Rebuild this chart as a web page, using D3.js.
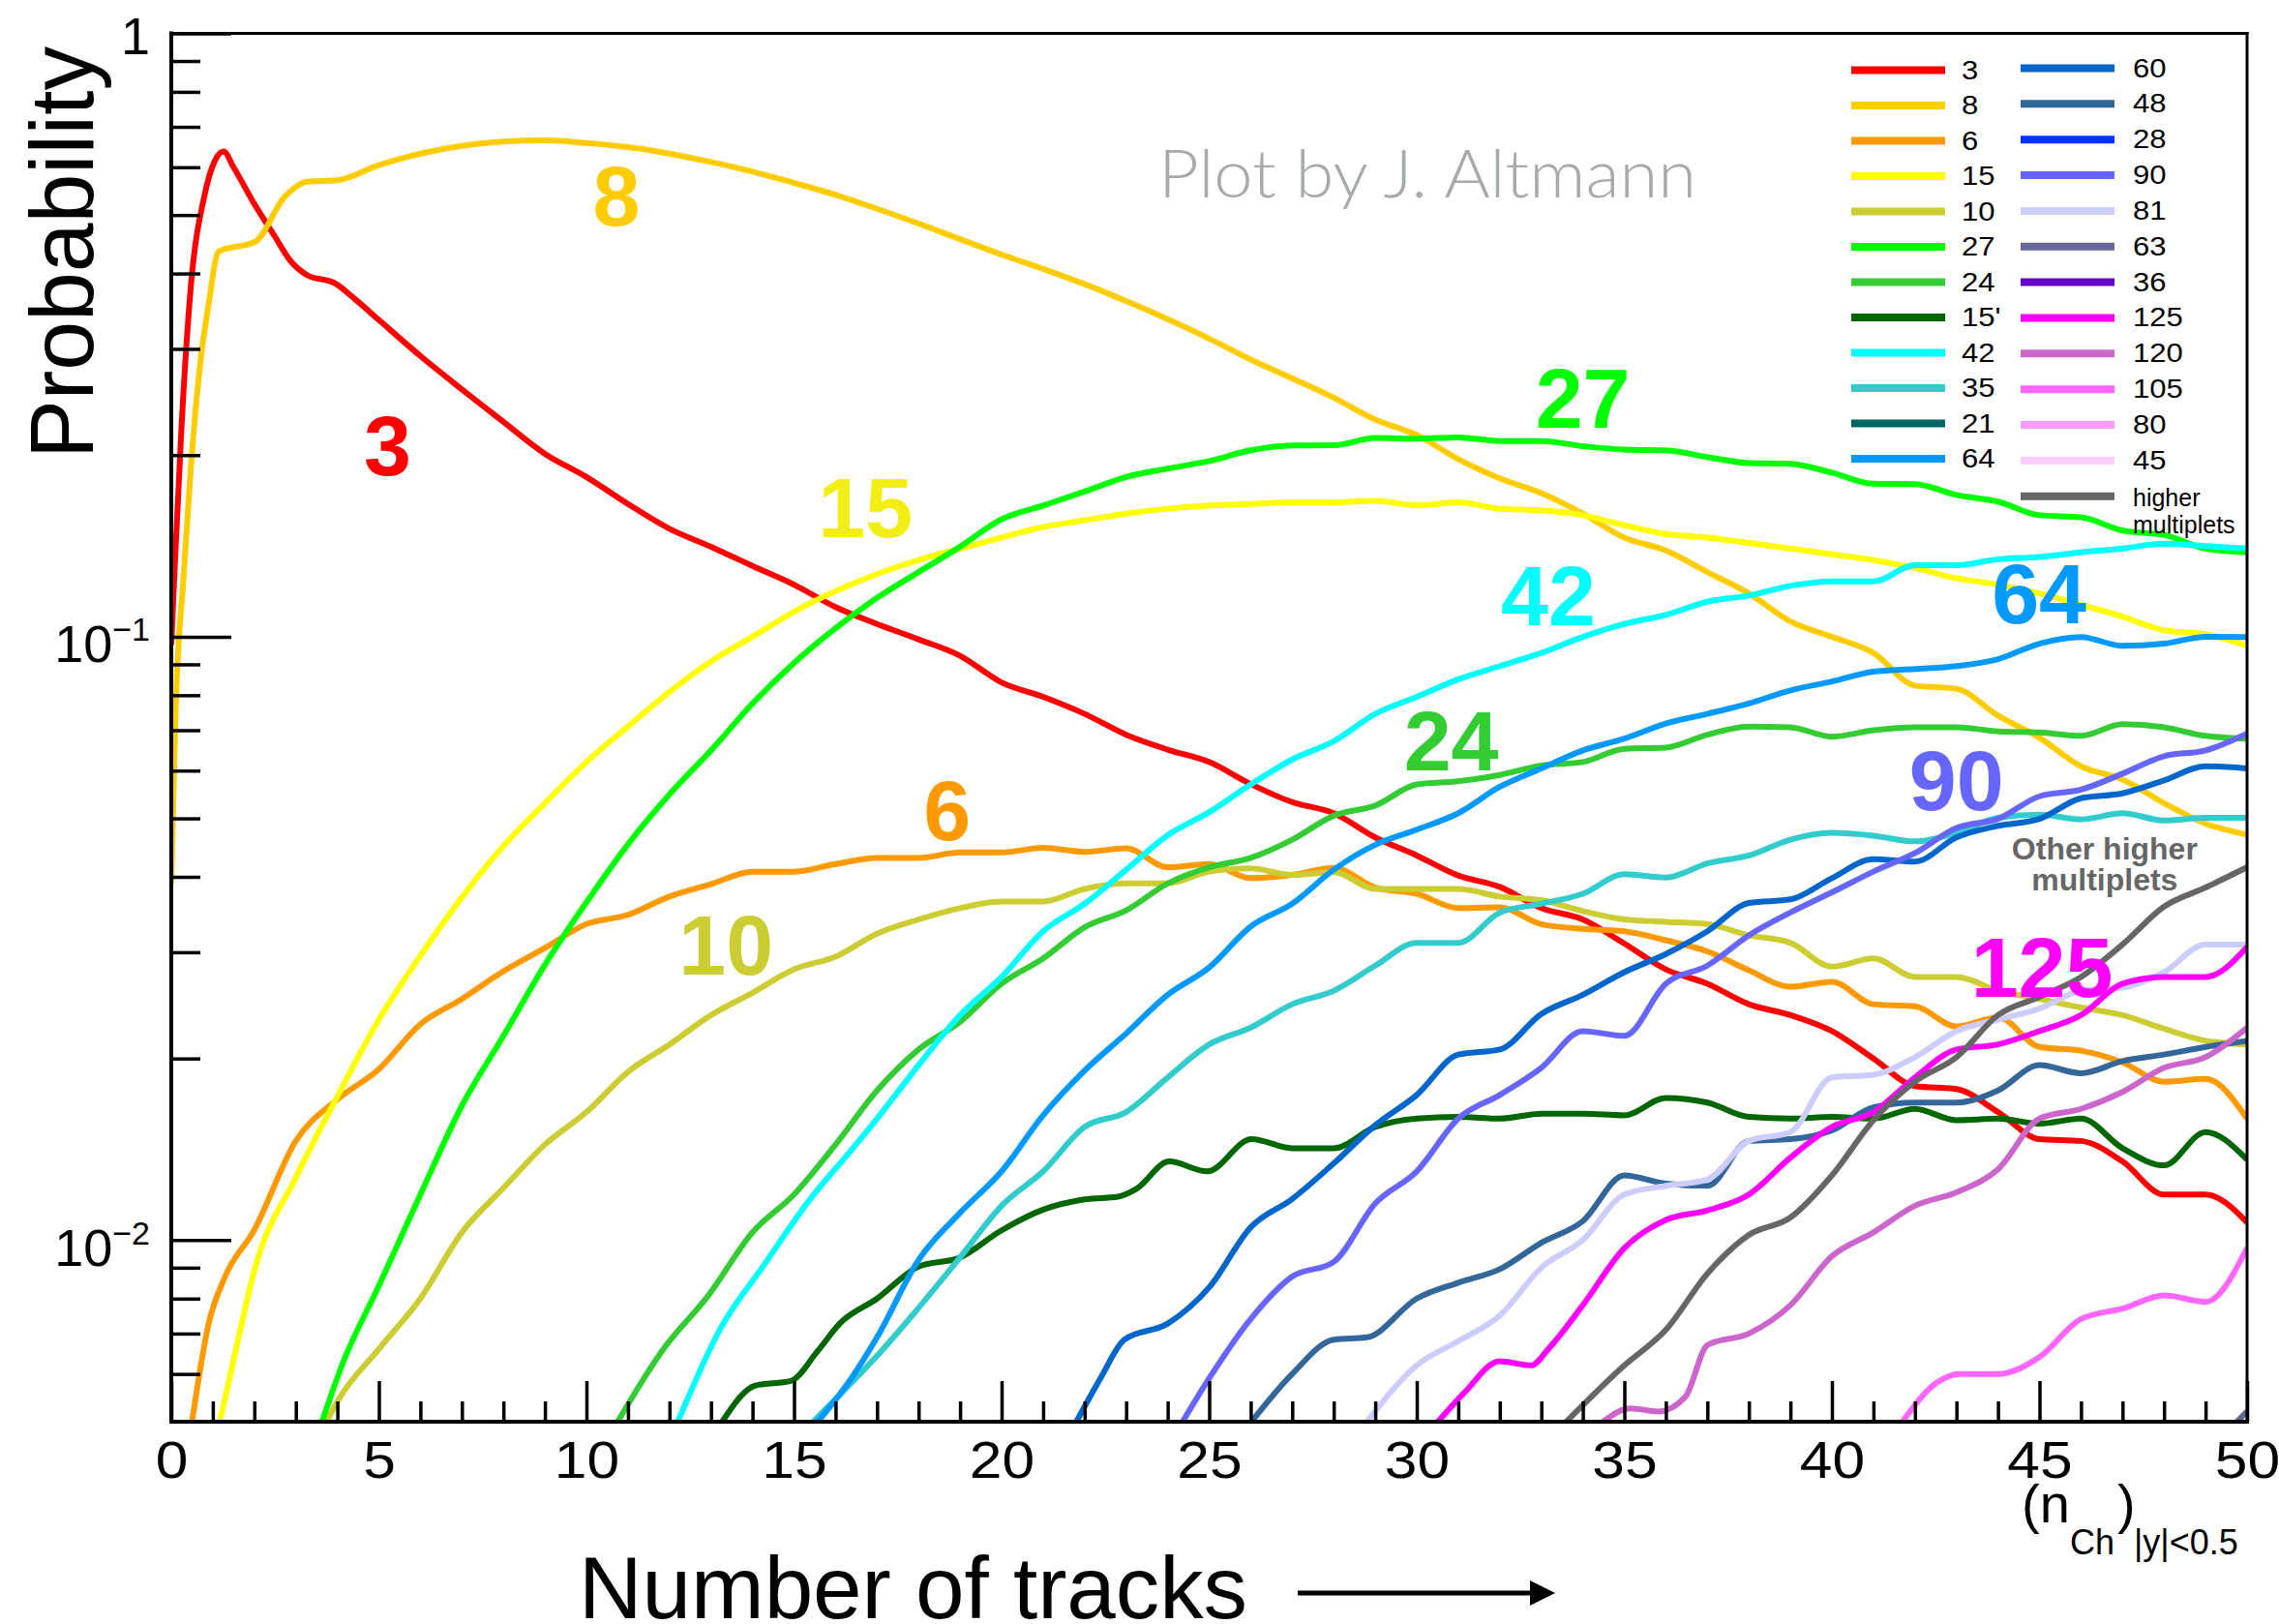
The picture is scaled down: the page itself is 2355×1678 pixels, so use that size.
<!DOCTYPE html>
<html>
<head>
<meta charset="utf-8">
<script src="https://cdn.jsdelivr.net/npm/d3@7"></script>
<style>
  html, body { margin: 0; padding: 0; background: #ffffff; }
  svg { display: block; }
</style>
</head>
<body>
<svg id="chart" width="2355" height="1678"></svg>
<script>
// ---------------------------------------------------------------------------
// Multiplet probabilities versus charged-track multiplicity (|y| < 0.5)
// Each series: [number of tracks, probability]
// ---------------------------------------------------------------------------
const s3 = [[0,0.097],[0.1,0.138],[0.25,0.225],[0.47,0.38],[0.79,0.535],[1.05,0.615],[1.26,0.637],[1.5,0.6],[1.97,0.526],[2.5,0.46],[2.88,0.419],[3.26,0.398],[3.95,0.385],[4.44,0.362],[5,0.335],[6,0.292],[7,0.257],[8,0.227],[9,0.201],[10,0.184],[11,0.166],[12,0.151],[13,0.141],[14,0.131],[15,0.122],[16,0.112],[17,0.105],[18,0.099],[19,0.093],[20,0.084],[21,0.0795],[22,0.0745],[23,0.0688],[24,0.065],[25,0.062],[26,0.057],[27,0.0532],[28,0.051],[29,0.0465],[30,0.0434],[31,0.0402],[32,0.0385],[33,0.0355],[34,0.034],[35,0.031],[36,0.0281],[37,0.0266],[38,0.0246],[39,0.0236],[40,0.0222],[41,0.02],[42,0.018],[43,0.0178],[44,0.0163],[45,0.0147],[46,0.0146],[47,0.0135],[48,0.0119],[49,0.0119],[50,0.0107]];
const s8 = [[0,0.039],[0.1,0.074],[0.3,0.127],[0.47,0.19],[0.69,0.281],[0.9,0.356],[1.14,0.435],[2.03,0.452],[2.72,0.535],[3.04,0.559],[3.26,0.568],[4,0.571],[5,0.605],[6,0.632],[7,0.651],[8,0.662],[9,0.665],[10,0.658],[11,0.648],[12,0.632],[13,0.612],[14,0.59],[15,0.565],[16,0.54],[17,0.512],[18,0.484],[19,0.456],[20,0.43],[21,0.407],[22,0.384],[23,0.36],[24,0.336],[25,0.312],[26,0.288],[27,0.268],[28,0.249],[29,0.229],[30,0.216],[31,0.197],[32,0.183],[33,0.173],[34,0.16],[35,0.146],[36,0.139],[37,0.128],[38,0.118],[39,0.106],[40,0.1],[41,0.094],[42,0.083],[43,0.082],[44,0.074],[45,0.068],[46,0.061],[47,0.058],[48,0.053],[49,0.049],[50,0.047]];
const s6 = [[0.5,0.005],[0.9,0.00727],[1.28,0.00865],[2,0.0104],[3,0.0146],[4,0.0171],[5,0.0192],[6,0.0228],[7,0.0251],[8,0.0279],[9,0.0305],[10,0.0334],[11,0.0346],[12,0.0371],[13,0.0389],[14,0.0408],[15,0.0408],[16,0.042],[17,0.043],[18,0.043],[19,0.0439],[20,0.0439],[21,0.0447],[22,0.044],[23,0.0446],[24,0.0415],[25,0.042],[26,0.0398],[27,0.0403],[28,0.0414],[29,0.0384],[30,0.0375],[31,0.0355],[32,0.0356],[33,0.0334],[34,0.0328],[35,0.0325],[36,0.0314],[37,0.0301],[38,0.028],[39,0.0263],[40,0.0268],[41,0.0246],[42,0.0244],[43,0.0226],[44,0.0234],[45,0.0209],[46,0.0206],[47,0.0197],[48,0.0183],[49,0.0185],[50,0.0159]];
const s15 = [[1.17,0.005],[1.6,0.0068],[2,0.0089],[3,0.0127],[4,0.0173],[5,0.0232],[6,0.0296],[7,0.037],[8,0.045],[9,0.053],[10,0.062],[11,0.071],[12,0.081],[13,0.091],[14,0.1],[15,0.11],[16,0.119],[17,0.127],[18,0.134],[19,0.14],[20,0.146],[21,0.152],[22,0.156],[23,0.16],[24,0.163],[25,0.165],[26,0.166],[27,0.167],[28,0.167],[29,0.168],[30,0.165],[31,0.167],[32,0.163],[33,0.162],[34,0.159],[35,0.153],[36,0.148],[37,0.146],[38,0.143],[39,0.14],[40,0.137],[41,0.134],[42,0.13],[43,0.125],[44,0.122],[45,0.118],[46,0.113],[47,0.108],[48,0.1025],[49,0.101],[50,0.0966]];
const s10 = [[3.74,0.005],[4,0.0054],[5,0.0066],[6,0.008],[7,0.0103],[8,0.0122],[9,0.0144],[10,0.0163],[11,0.019],[12,0.0211],[13,0.0236],[14,0.0257],[15,0.0281],[16,0.0295],[17,0.0322],[18,0.034],[19,0.0355],[20,0.0364],[21,0.0364],[22,0.0382],[23,0.039],[24,0.039],[25,0.0408],[26,0.0413],[27,0.0403],[28,0.0407],[29,0.0382],[30,0.0382],[31,0.0382],[32,0.0371],[33,0.0366],[34,0.0351],[35,0.034],[36,0.0337],[37,0.0334],[38,0.032],[39,0.0311],[40,0.0284],[41,0.0293],[42,0.0273],[43,0.0273],[44,0.0259],[45,0.0251],[46,0.0243],[47,0.0236],[48,0.0224],[49,0.0214],[50,0.0211]];
const s27 = [[3.63,0.005],[4.11,0.0062],[5,0.0084],[6,0.0119],[7,0.0167],[8,0.0218],[9,0.0286],[10,0.0363],[11,0.0453],[12,0.0548],[13,0.0648],[14,0.0775],[15,0.0905],[16,0.1033],[17,0.116],[18,0.128],[19,0.141],[20,0.1566],[21,0.165],[22,0.174],[23,0.184],[24,0.19],[25,0.1955],[26,0.2037],[27,0.2075],[28,0.2077],[29,0.2135],[30,0.213],[31,0.214],[32,0.211],[33,0.211],[34,0.207],[35,0.2043],[36,0.2037],[37,0.1985],[38,0.194],[39,0.1935],[40,0.187],[41,0.1793],[42,0.179],[43,0.1718],[44,0.1675],[45,0.159],[46,0.1578],[47,0.15],[48,0.1475],[49,0.14],[50,0.138]];
const s24 = [[10.75,0.005],[11.82,0.00655],[12.94,0.0081],[14,0.0103],[15,0.0119],[16,0.0144],[17,0.0177],[18,0.0207],[19,0.023],[20,0.0266],[21,0.0293],[22,0.033],[23,0.0352],[24,0.039],[25,0.0415],[26,0.043],[27,0.0461],[28,0.0505],[29,0.0525],[30,0.0569],[31,0.0576],[32,0.059],[33,0.0612],[34,0.062],[35,0.0652],[36,0.0655],[37,0.0688],[38,0.071],[39,0.0708],[40,0.0683],[41,0.07],[42,0.0708],[43,0.0708],[44,0.0697],[45,0.0694],[46,0.0685],[47,0.0716],[48,0.0708],[49,0.0685],[50,0.0678]];
const s15p = [[13.27,0.005],[14.07,0.00574],[14.92,0.00584],[15.57,0.00655],[16.1,0.00727],[17,0.008],[18,0.00904],[19,0.00936],[20,0.01038],[21,0.01123],[22,0.01168],[22.8,0.0118],[23.24,0.01215],[24.04,0.0135],[24.95,0.013],[26.02,0.0147],[27,0.0142],[28,0.0142],[29,0.0154],[30,0.0159],[31,0.016],[32,0.0159],[33,0.0162],[34,0.0162],[35,0.0161],[36,0.0172],[37,0.0169],[38,0.016],[39,0.0159],[40,0.016],[41,0.0159],[42,0.0165],[43,0.0158],[44,0.0159],[45,0.0156],[46,0.0159],[47,0.0142],[48,0.0133],[49,0.0151],[50,0.0136]];
const s42 = [[12.2,0.005],[13.21,0.0071],[14.28,0.0091],[15.35,0.0116],[16.38,0.0141],[17,0.0159],[18,0.0195],[19,0.0236],[20,0.0273],[21,0.0325],[22,0.0361],[23,0.0411],[24,0.0469],[25,0.0512],[26,0.0569],[27,0.0626],[28,0.0671],[29,0.0745],[30,0.0795],[31,0.085],[32,0.0894],[33,0.094],[34,0.0999],[35,0.105],[36,0.1087],[37,0.1143],[38,0.117],[39,0.1214],[40,0.1235],[41,0.1235],[42,0.1314],[43,0.1314],[44,0.1344],[45,0.1356],[46,0.138],[47,0.14],[48,0.1426],[49,0.1413],[50,0.14]];
const s35 = [[15.46,0.005],[16.38,0.0058],[17,0.00643],[18,0.00772],[19,0.00936],[20,0.0114],[21,0.013],[22,0.0154],[23,0.0163],[24,0.0186],[25,0.0211],[26,0.0225],[27,0.0246],[28,0.0259],[29,0.0285],[30,0.0311],[31,0.0311],[32,0.0349],[33,0.0361],[34,0.0375],[35,0.0404],[36,0.0399],[37,0.0421],[38,0.0434],[39,0.0461],[40,0.0473],[41,0.0468],[42,0.0458],[43,0.0473],[44,0.0501],[45,0.0507],[46,0.0498],[47,0.051],[48,0.0496],[49,0.0501],[50,0.0501]];
const s21 = [];
const s64 = [[15.57,0.005],[16.38,0.0059],[17,0.0069],[18,0.00927],[19,0.0111],[20,0.013],[21,0.0161],[22,0.0191],[23,0.022],[24,0.0255],[25,0.0283],[26,0.0331],[27,0.0361],[28,0.0411],[29,0.0452],[30,0.0479],[31,0.051],[32,0.0564],[33,0.0605],[34,0.0648],[35,0.0678],[36,0.0718],[37,0.0745],[38,0.0775],[39,0.0815],[40,0.0843],[41,0.0875],[42,0.0884],[43,0.0894],[44,0.0918],[45,0.0974],[46,0.0999],[47,0.0966],[48,0.0974],[49,0.1],[50,0.0999]];
const s60 = [[21.8,0.005],[22.38,0.0059],[22.96,0.00684],[24,0.00727],[25,0.00835],[26,0.0105],[27,0.0117],[28,0.0134],[29,0.0155],[30,0.0174],[31,0.0203],[32,0.0207],[33,0.0237],[34,0.0255],[35,0.0278],[36,0.0298],[37,0.0325],[38,0.0362],[39,0.0367],[40,0.0398],[41,0.0428],[42,0.0424],[43,0.0465],[44,0.0486],[45,0.0499],[46,0.054],[47,0.055],[48,0.0578],[49,0.061],[50,0.0605]];
const s48 = [[26.02,0.005],[27,0.006],[28,0.00684],[28.8,0.0069],[30,0.008],[31,0.0085],[32,0.00895],[33,0.0099],[34,0.01075],[35,0.0128],[36,0.0124],[37,0.0123],[38,0.0146],[39,0.0147],[40,0.0152],[41,0.0166],[42,0.0169],[43,0.0169],[44,0.0177],[45,0.0195],[46,0.0189],[47,0.0198],[48,0.0203],[49,0.0209],[50,0.0214]];
const s28 = [];
const s90 = [[24.36,0.005],[25,0.0059],[26,0.0074],[27,0.0087],[28,0.0092],[29,0.0115],[30,0.013],[31,0.0159],[32,0.0174],[33,0.0193],[34,0.0222],[35,0.0218],[36,0.0266],[37,0.0285],[38,0.032],[39,0.0349],[40,0.0377],[41,0.0408],[42,0.0438],[43,0.0482],[44,0.0499],[45,0.0544],[46,0.0558],[47,0.0593],[48,0.0634],[49,0.0648],[50,0.0691]];
const s81 = [[28.8,0.005],[30,0.0062],[31,0.0068],[32,0.0075],[33,0.009],[34,0.01],[35,0.0119],[36,0.0123],[37,0.0126],[38,0.0146],[39,0.0151],[40,0.0186],[41,0.0188],[42,0.0201],[43,0.0222],[44,0.0232],[45,0.0242],[46,0.0259],[47,0.0262],[48,0.0278],[49,0.0309],[50,0.0309]];
const s63 = [[49.5,0.0048],[50,0.0052]];
const s36 = [];
const s125 = [[30.51,0.005],[31.16,0.0056],[32,0.0063],[32.76,0.0062],[33.17,0.0066],[34,0.0078],[35,0.0097],[36,0.0108],[37,0.0112],[38,0.0119],[39,0.0137],[40,0.0154],[41,0.0163],[42,0.0186],[43,0.0207],[44,0.0211],[45,0.0222],[46,0.0236],[47,0.0266],[48,0.0273],[49,0.0273],[50,0.0306]];
const s120 = [[34.48,0.005],[35.15,0.00526],[35.81,0.0052],[36.47,0.0055],[37,0.0067],[38,0.007],[39,0.0078],[40,0.0094],[41,0.0103],[42,0.0114],[43,0.012],[44,0.0131],[45,0.0159],[46,0.0165],[47,0.0176],[48,0.0193],[49,0.0201],[50,0.0225]];
const s105 = [[41.7,0.005],[42.52,0.0058],[43.07,0.006],[44,0.006],[45,0.0064],[46,0.0074],[47,0.0077],[48,0.0081],[49,0.0079],[50,0.0097]];
const s80 = [];
const s45 = [];
const sHigher = [[33.6,0.005],[35,0.0062],[36,0.0071],[37,0.0088],[38,0.0102],[39,0.0109],[40,0.0128],[41,0.0158],[42,0.0183],[43,0.0201],[44,0.0236],[45,0.0253],[46,0.0273],[47,0.0309],[48,0.0357],[49,0.0384],[50,0.0415]];

// Legend order, names and colours
const seriesNames  = ["3","8","6","15","10","27","24","15'","42","35","21","64",
                      "60","48","28","90","81","63","36","125","120","105","80","45","higher multiplets"];
const seriesColors = ["#ff0000","#ffcc00","#ff9900","#ffff00","#cccc33","#00ff00","#33cc33","#006600",
                      "#00ffff","#33cccc","#006666","#0099ff",
                      "#0066cc","#336699","#0033ff","#6666ff","#ccccff","#666699","#6600cc",
                      "#ff00ff","#cc66cc","#ff66ff","#ff99ff","#ffccff","#666666"];
const seriesValues = [s3,s8,s6,s15,s10,s27,s24,s15p,s42,s35,s21,s64,
                      s60,s48,s28,s90,s81,s63,s36,s125,s120,s105,s80,s45,sHigher];

// Axis ticks
const xMajorTicks = [0,5,10,15,20,25,30,35,40,45,50];
const xMinorTicks = d3.range(0, 51).filter(d => d % 5 !== 0);
const yMajorTicks = [0.01, 0.1, 1];
const yMajorLabels = [["10","\u22122"],["10","\u22121"],["1",""]];
const yMinorTicks = [0.006,0.007,0.008,0.009, 0.02,0.03,0.04,0.05,0.06,0.07,0.08,0.09,
                     0.2,0.3,0.4,0.5,0.6,0.7,0.8,0.9];

// In-plot curve names: [text, tracks, probability at baseline, colour]
const curveTags = [
  ["8",   10.72, 0.4796, "#ffcc00"],
  ["3",    5.21, 0.1855, "#ff0000"],
  ["15",  16.72, 0.1462, "#f2ee14"],
  ["27",  34.0,  0.222,  "#00ff00"],
  ["42",  33.17, 0.1045, "#00ffff"],
  ["64",  44.99, 0.1053, "#0099ff"],
  ["24",  30.83, 0.06005,"#33cc33"],
  ["6",   18.69, 0.046,  "#ff9900"],
  ["10",  13.36, 0.02754,"#cccc33"],
  ["90",  43.0,  0.0516, "#6666ff"],
  ["125", 45.06, 0.0253, "#ff00ff"]
];

// ---------------------------------------------------------------------------
const FONT = "'Liberation Sans', Arial, Helvetica, sans-serif";
const svg = d3.select("#chart");
const plot = { left: 177, right: 2322, top: 34.5, bottom: 1469 };

const x = d3.scaleLinear().domain([0, 50]).range([plot.left, plot.right]);
const y = d3.scaleLog().domain([0.005, 1]).range([plot.bottom, plot.top]);

// widen glyphs slightly so the regular lettering keeps its broad proportions
function widen(sel, k) {
  sel.each(function () {
    const L = this.getComputedTextLength();
    d3.select(this).attr("textLength", L * k).attr("lengthAdjust", "spacingAndGlyphs");
  });
}

svg.append("rect").attr("width", 2355).attr("height", 1678).attr("fill", "#fff");

// clip region for the curves
svg.append("defs").append("clipPath").attr("id", "plotClip")
  .append("rect")
  .attr("x", plot.left).attr("y", plot.top)
  .attr("width", plot.right - plot.left).attr("height", plot.bottom - plot.top);

// watermark
svg.append("text")
  .attr("x", 1197).attr("y", 204)
  .attr("font-family", "Lato, 'Open Sans', sans-serif")
  .attr("font-weight", 300)
  .attr("font-size", 69)
  .attr("fill", "#a7aaaa")
  .attr("textLength", 556).attr("lengthAdjust", "spacingAndGlyphs")
  .text("Plot by J. Altmann");

// curves
const line = d3.line()
  .x(d => x(d[0]))
  .y(d => y(d[1]))
  .curve(d3.curveMonotoneX);

const curves = svg.append("g").attr("clip-path", "url(#plotClip)");
seriesValues.forEach((vals, i) => {
  if (!vals.length) return;
  curves.append("path")
    .attr("d", line(vals))
    .attr("fill", "none")
    .attr("stroke", seriesColors[i])
    .attr("stroke-width", 6)
    .attr("stroke-linejoin", "round");
});

// curve names inside the plot
svg.append("g").selectAll("text").data(curveTags).join("text")
  .attr("x", d => x(d[1])).attr("y", d => y(d[2]))
  .attr("text-anchor", "middle")
  .attr("font-family", FONT).attr("font-weight", "bold")
  .attr("font-size", 88)
  .attr("fill", d => d[3])
  .text(d => d[0]);

const other = svg.append("text")
  .attr("text-anchor", "middle")
  .attr("font-family", FONT).attr("font-weight", "bold")
  .attr("font-size", 32).attr("fill", "#666666");
other.append("tspan").attr("x", x(46.57)).attr("y", y(0.0428)).text("Other higher");
other.append("tspan").attr("x", x(46.57)).attr("y", y(0.0428) + 32).text("multiplets");

// axes: x
const xMajor = svg.append("g")
  .attr("transform", `translate(0,${plot.bottom})`)
  .call(d3.axisBottom(x).tickValues(xMajorTicks).tickSize(-42).tickSizeOuter(0).tickFormat(d3.format("d")));
const xMinor = svg.append("g")
  .attr("transform", `translate(0,${plot.bottom})`)
  .call(d3.axisBottom(x).tickValues(xMinorTicks).tickSize(-21).tickSizeOuter(0).tickFormat(""));

// axes: y
const yMajor = svg.append("g")
  .attr("transform", `translate(${plot.left},0)`)
  .call(d3.axisLeft(y).tickValues(yMajorTicks).tickSize(-62).tickSizeOuter(0).tickFormat(""));
const yMinor = svg.append("g")
  .attr("transform", `translate(${plot.left},0)`)
  .call(d3.axisLeft(y).tickValues(yMinorTicks).tickSize(-30).tickSizeOuter(0).tickFormat(""));

[xMajor, xMinor, yMajor, yMinor].forEach(g => {
  g.select(".domain").remove();
  g.selectAll(".tick line").attr("stroke", "#000").attr("stroke-width", 3.5);
});

xMajor.selectAll(".tick text")
  .attr("y", 58).attr("dy", 0)
  .attr("font-family", FONT).attr("font-size", 54).attr("fill", "#000")
  .call(widen, 1.12);

yMajor.selectAll(".tick").each(function (d) {
  const lab = yMajorLabels[yMajorTicks.indexOf(d)];
  const t = d3.select(this).select("text")
    .attr("x", -22).attr("dy", 0)
    .attr("y", lab[1] ? 26 : 21)
    .attr("text-anchor", "end")
    .attr("font-family", FONT).attr("font-size", 54).attr("fill", "#000")
    .text(lab[0]);
  if (lab[1]) t.append("tspan").attr("dy", -22).attr("font-size", 34).text(lab[1]);
});

// frame
const frame = svg.append("g").attr("stroke", "#000").attr("stroke-linecap", "square");
frame.append("line").attr("x1", plot.left).attr("x2", plot.left).attr("y1", plot.top).attr("y2", plot.bottom).attr("stroke-width", 4);
frame.append("line").attr("x1", plot.left).attr("x2", plot.right).attr("y1", plot.bottom).attr("y2", plot.bottom).attr("stroke-width", 4);
frame.append("line").attr("x1", plot.left).attr("x2", plot.right).attr("y1", plot.top).attr("y2", plot.top).attr("stroke-width", 3);
frame.append("line").attr("x1", plot.right).attr("x2", plot.right).attr("y1", plot.top).attr("y2", plot.bottom).attr("stroke-width", 3);

// axis titles
svg.append("text")
  .attr("transform", "translate(96,474) rotate(-90)")
  .attr("font-family", FONT).attr("font-size", 92).attr("fill", "#000")
  .attr("textLength", 426).attr("lengthAdjust", "spacingAndGlyphs")
  .text("Probability");

svg.append("text")
  .attr("x", 598).attr("y", 1672)
  .attr("font-family", FONT).attr("font-size", 90).attr("fill", "#000")
  .attr("textLength", 691).attr("lengthAdjust", "spacingAndGlyphs")
  .text("Number of tracks");

// arrow
svg.append("line")
  .attr("x1", 1341).attr("x2", 1585).attr("y1", 1646).attr("y2", 1646)
  .attr("stroke", "#000").attr("stroke-width", 5);
svg.append("path")
  .attr("d", "M1581,1633 L1607,1646 L1581,1659 Z")
  .attr("fill", "#000");

// variable annotation (n_Ch)_|y|<0.5
const nch = svg.append("text").attr("font-family", FONT).attr("fill", "#000");
nch.append("tspan").attr("x", 2089).attr("y", 1573).attr("font-size", 56).text("(n");
nch.append("tspan").attr("x", 2139).attr("y", 1606).attr("font-size", 36).text("Ch");
nch.append("tspan").attr("x", 2188).attr("y", 1573).attr("font-size", 56).text(")");
nch.append("tspan").attr("x", 2205).attr("y", 1606).attr("font-size", 36).text("|y|<0.5");

// legend: two columns
const legend = svg.append("g");
seriesNames.forEach((name, i) => {
  const col = i < 12 ? 0 : 1;
  const row = col === 0 ? i : i - 12;
  const ly = col === 0 ? 72.5 + row * 36.5 : 70.5 + row * 36.85;
  const x1 = col === 0 ? 1913 : 2088;
  const tx = col === 0 ? 2027 : 2204;
  legend.append("line")
    .attr("x1", x1).attr("x2", x1 + 97).attr("y1", ly).attr("y2", ly)
    .attr("stroke", seriesColors[i]).attr("stroke-width", 8);
  if (name === "higher multiplets") {
    const t = legend.append("text").attr("font-family", FONT).attr("font-size", 25).attr("fill", "#000");
    t.append("tspan").attr("x", tx).attr("y", ly + 10).text("higher");
    t.append("tspan").attr("x", tx).attr("y", ly + 38).text("multiplets");
  } else {
    legend.append("text")
      .attr("x", tx).attr("y", ly + 9)
      .attr("font-family", FONT).attr("font-size", 27).attr("fill", "#000")
      .text(name)
      .call(widen, 1.15);
  }
});
</script>
</body>
</html>
